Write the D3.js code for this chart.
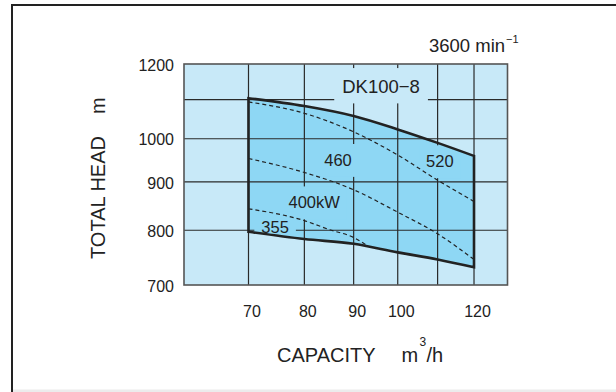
<!DOCTYPE html>
<html>
<head>
<meta charset="utf-8">
<script src="https://cdn.jsdelivr.net/npm/d3@7"></script>
<style>
  html, body { margin: 0; padding: 0; background: #ffffff; }
  svg { display: block; }
  text { font-family: "Liberation Sans", Arial, Helvetica, sans-serif; fill: #222; }
</style>
</head>
<body>
<div id="chart"></div>
<script>
// ---------------- data ----------------
const capacity = [70, 80, 90, 100, 110, 120];          // m3/h
const headMax  = [1104, 1083, 1057, 1023, 990, 959];   // upper limit, m
const headMin  = [797, 783, 774, 758, 745, 731];       // lower limit, m

const power520Q = [70, 80, 90, 100, 110, 120];
const power520H = [1094, 1064, 1017, 961, 904, 858];
const power460Q = [70, 80, 90, 100, 110, 120];
const power460H = [953, 921, 883, 836, 793, 745];
const power400Q = [70, 80, 85, 90, 93.2];
const power400H = [843, 819, 801, 786, 769];

const xTickValues = [70, 80, 90, 100, 120];
const xGridValues = [70, 80, 90, 100, 110, 120];
const yTickValues = [700, 800, 900, 1000, 1200];
const yGridValues = [800, 900, 1000, 1100];

const curveLabels = ["460", "520", "400kW", "355"];
const curveLabelQ = [86.7, 110.6, 81.9, 74.6];
const curveLabelH = [936, 933, 844, 794];

const modelName = "DK100\u22128";
const modelQ = 96.1, modelH = 1117;

// ---------------- layout ----------------
const W = 616, H = 392;
const plot = { left: 184, right: 507.5, top: 64, bottom: 285 };
const outerBlue = "#c8e9f8";
const innerBlue = "#8ed7f4";
const ink = "#222";

const svg = d3.select("#chart").append("svg").attr("width", W).attr("height", H);

// outer frame
svg.append("rect").attr("x", 12).attr("y", 5).attr("width", 700).attr("height", 420)
  .attr("fill", "none").attr("stroke", ink).attr("stroke-width", 2);
svg.append("rect").attr("x", 13).attr("y", 389.5).attr("width", 620).attr("height", 3)
  .attr("fill", "#ececec");

const x = d3.scaleLog().domain([60, 130]).range([plot.left, plot.right]);
const y = d3.scaleLog().domain([700, 1200]).range([plot.bottom, plot.top]);

// plot background
svg.append("rect").attr("x", plot.left).attr("y", plot.top)
  .attr("width", plot.right - plot.left).attr("height", plot.bottom - plot.top)
  .attr("fill", outerBlue);

// operating region
const regionData = capacity.map((q, i) => ({ q, hi: headMax[i], lo: headMin[i] }));
const area = d3.area().x(d => x(d.q)).y0(d => y(d.lo)).y1(d => y(d.hi)).curve(d3.curveMonotoneX);
const regionPath = area(regionData);

svg.append("defs").append("clipPath").attr("id", "regionClip")
  .append("path").attr("d", regionPath);

svg.append("path").attr("d", regionPath).attr("fill", innerBlue);

// grid lines
const grid = svg.append("g").attr("stroke", "#2a2a2a").attr("stroke-width", 1.2);
grid.selectAll("line.v").data(xGridValues).join("line").attr("class", "v")
  .attr("x1", d => x(d)).attr("x2", d => x(d))
  .attr("y1", plot.top).attr("y2", plot.bottom);
grid.selectAll("line.h").data(yGridValues).join("line").attr("class", "h")
  .attr("y1", d => y(d)).attr("y2", d => y(d))
  .attr("x1", plot.left).attr("x2", plot.right);

// model name label with background knocking out grid
const modelG = svg.append("g");
const modelRect = modelG.append("rect").attr("fill", outerBlue);
const modelText = modelG.append("text").attr("x", x(modelQ)).attr("y", y(modelH))
  .attr("text-anchor", "middle").attr("font-size", 18.5).text(modelName);
{
  const w = modelText.node().getComputedTextLength();
  const cap = 0.72 * 18.5;
  modelRect.attr("x", x(modelQ) - w / 2 - 8).attr("width", w + 16)
    .attr("y", y(modelH) - cap - 12).attr("height", cap + 22);
}

// curve labels background (clipped to region)
const labG = svg.append("g");
const labRects = labG.append("g").attr("clip-path", "url(#regionClip)");
const labTexts = [];
curveLabels.forEach((t, i) => {
  const r = labRects.append("rect").attr("fill", innerBlue);
  labTexts.push({ r, i, t });
});

// dashed power lines
const line = d3.line().x(d => x(d[0])).y(d => y(d[1])).curve(d3.curveMonotoneX);
const dashG = svg.append("g").attr("fill", "none").attr("stroke", ink)
  .attr("stroke-width", 1.2).attr("stroke-dasharray", "4,3");
[[power520Q, power520H], [power460Q, power460H], [power400Q, power400H]].forEach(([qs, hs]) => {
  dashG.append("path").attr("d", line(qs.map((q, i) => [q, hs[i]])));
});

// region outline
svg.append("path").attr("d", regionPath).attr("fill", "none")
  .attr("stroke", ink).attr("stroke-width", 2.6).attr("stroke-linejoin", "miter");

// label texts
labTexts.forEach(({ r, i, t }) => {
  const tx = labG.append("text").attr("x", x(curveLabelQ[i])).attr("y", y(curveLabelH[i]))
    .attr("text-anchor", "middle").attr("font-size", 16.5).text(t);
  const w = tx.node().getComputedTextLength();
  const cap = 0.72 * 16.5;
  r.attr("x", x(curveLabelQ[i]) - w / 2 - 7).attr("width", w + 14)
    .attr("y", y(curveLabelH[i]) - cap - 10).attr("height", cap + 21);
});

// plot border
svg.append("rect").attr("x", plot.left).attr("y", plot.top)
  .attr("width", plot.right - plot.left).attr("height", plot.bottom - plot.top)
  .attr("fill", "none").attr("stroke", "#555").attr("stroke-width", 1.6);

// axes (labels only, no tick marks)
const xAxis = d3.axisBottom(x).tickValues(xTickValues).tickSize(0).tickPadding(0)
  .tickFormat(d3.format("d"));
const gx = svg.append("g").attr("transform", `translate(3,${plot.bottom + 32})`).call(xAxis);
gx.select(".domain").remove();
gx.selectAll("text").attr("font-size", 16).attr("fill", ink)
  .attr("font-family", "'Liberation Sans', Arial, sans-serif").attr("dy", 0).attr("y", 0);

const yAxis = d3.axisLeft(y).tickValues(yTickValues).tickSize(0).tickPadding(0)
  .tickFormat(d3.format("d"));
const gy = svg.append("g").attr("transform", `translate(174,0)`).call(yAxis);
gy.select(".domain").remove();
gy.selectAll("text").attr("font-size", 16).attr("fill", ink)
  .attr("font-family", "'Liberation Sans', Arial, sans-serif").attr("dy", "0.38em");

// axis titles
svg.append("text").attr("transform", "translate(104.5,259) rotate(-90)")
  .attr("font-size", 20).text("TOTAL HEAD");
svg.append("text").attr("transform", "translate(104.5,114) rotate(-90)")
  .attr("font-size", 20).text("m");

svg.append("text").attr("x", 277).attr("y", 362).attr("font-size", 20).text("CAPACITY");
svg.append("text").attr("x", 401.5).attr("y", 362).attr("font-size", 20).text("m");
svg.append("text").attr("x", 419.5).attr("y", 346).attr("font-size", 12).text("3");
svg.append("text").attr("x", 426.5).attr("y", 362).attr("font-size", 20).text("/h");

// speed
svg.append("text").attr("x", 429).attr("y", 52).attr("font-size", 18.5).text("3600 min");
svg.append("text").attr("x", 506).attr("y", 43).attr("font-size", 11).text("\u22121");
</script>
</body>
</html>
